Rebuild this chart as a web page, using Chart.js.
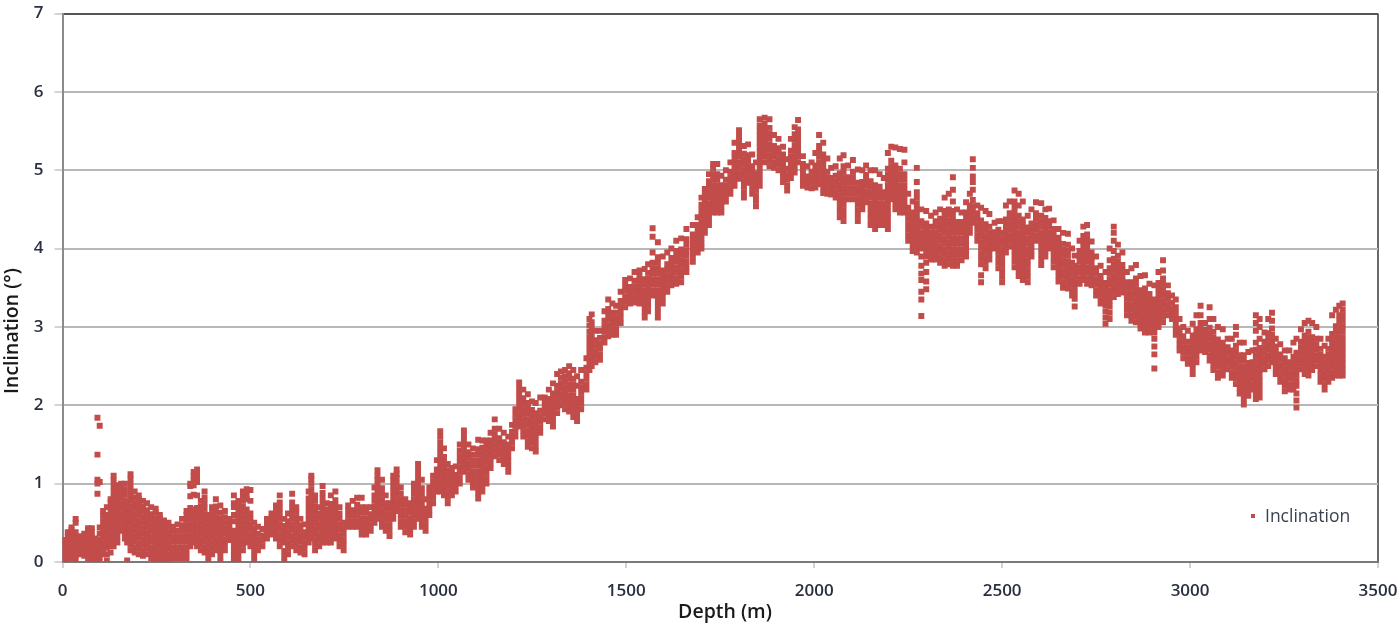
<!DOCTYPE html>
<html><head><meta charset="utf-8">
<style>html,body{margin:0;padding:0;background:#fff}#w{position:relative;width:1400px;height:624px}canvas{display:block;filter:blur(.55px)}</style>
<script src="https://cdn.jsdelivr.net/npm/chart.js@4"></script></head><body><div id="w"><canvas id="c" width="1400" height="624"></canvas></div>
<script>
const seriesName='Inclination';
const xTitle='Depth (m)';
const yTitle='Inclination (°)';
const xTicks=[0,500,1000,1500,2000,2500,3000,3500];
const yTicks=[0,1,2,3,4,5,6,7];
const depthsA=[5,14,24,35,46,58,68,78,88,93,99,108,118,128,136,146,156,166,172,181,192,203,214,225,236,248,259,270,282,294,306,318,330,340,349,358,368,378,388,398,408,420,432,444,456,468,480,490,500];
const inclA=[
[.03,.1,.16,.22,.28],[.02,.08,.14,.2,.26,.32,.38],[.05,.11,.17,.23,.29,.35,.41,.44],[.02,.08,.14,.2,.26,.32,.38,.5,.55],[.1,.16,.22,.28,.33],[.08,.14,.2,.26,.32,.36],[.05,.11,.17,.23,.29,.35,.41,.43],[.03,.09,.15,.21,.27,.33,.39,.43],[0,.06,.12,.18,.24,.3],
[.02,.08,.16,.25,.87,1,1.05,1.37,1.84],[.05,.12,.2,.28,.36,.44,1.02,1.74],[.1,.17,.24,.31,.38,.45,.52,.59,.65],[.02,.1,.18,.25,.32,.39,.46,.53,.6,.7],[.12,.2,.27,.34,.41,.48,.55,.62,.69,.76,.8],
[.2,.27,.34,.41,.48,.55,.62,.69,.76,.83,.9,.97,1.04,1.1],[.25,.32,.39,.46,.53,.6,.67,.74,.81,.88,.95,.98],[.4,.47,.54,.61,.68,.75,.82,.89,.96,1],[.3,.37,.44,.51,.58,.65,.72,.79,.86,.93,1],[.02,.25,.32,.39,.46,.53,.6,.67,.75],
[.15,.22,.29,.36,.43,.5,.57,.64,.71,.78,.85,.92,.99,1.06,1.12],[.12,.19,.26,.33,.4,.47,.54,.61,.68,.75,.82,.9],[.1,.17,.24,.31,.38,.45,.52,.59,.66,.73,.8,.85],[.08,.15,.22,.29,.36,.43,.5,.57,.64,.71,.78],[.1,.17,.24,.31,.38,.45,.52,.59,.66,.75],[.05,.12,.19,.26,.33,.4,.47,.54,.61,.7],[0,.07,.14,.21,.28,.35,.42,.49,.56,.63,.68],[0,.07,.14,.21,.28,.35,.42,.49,.56,.6],[0,.07,.14,.21,.28,.35,.42,.48,.53],
[.03,.1,.17,.24,.31,.38,.45,.5],[.05,.12,.19,.26,.33,.4,.45],[.05,.12,.19,.26,.33,.4,.48],[.05,.12,.19,.26,.33,.4,.47,.55],[.05,.12,.19,.26,.33,.4,.47,.54,.6,.65],[.2,.27,.34,.41,.48,.55,.62,.69,.84,.97,1],[.25,.32,.39,.46,.53,.6,.67,.86,.98,1.05,1.1,1.15],[.2,.27,.34,.41,.48,.55,.62,.69,.85,1.02,1.08,1.14,1.18],[.15,.22,.29,.36,.43,.5,.57,.64,.71,.78],[.12,.19,.26,.33,.4,.47,.54,.61,.68,.75,.82,.9],[0,.07,.14,.21,.28,.35,.42,.49,.56,.6],[.1,.17,.24,.31,.38,.45,.52,.59,.66,.7],[.15,.22,.29,.36,.43,.5,.57,.64,.71,.8],[0,.07,.14,.21,.28,.35,.42,.49,.56,.63,.72],[.15,.22,.29,.36,.43,.5,.57,.65],[.28,.35,.42,.49,.55],[0,.07,.14,.21,.28,.35,.4,.52,.6,.7,.75,.85],[.02,.09,.16,.23,.3,.37,.44,.51,.58,.65,.72,.78],[.15,.22,.29,.36,.43,.5,.57,.64,.71,.78,.85,.9],[.25,.32,.39,.46,.53,.6,.67,.8,.86,.93],[.2,.27,.34,.41,.48,.55,.62,.78,.92]];
const depthsB=[510,520,532,544,556,568,578,590,600,611,622,633,644,655,662,672,683,692,703,714,726,737,748,760,772,784,796,808,820,830,838,850,860,870,880,889,900,912,925,935,946,956,966,976,986,996];
const inclB=[
[0,.07,.14,.21,.28,.35,.42,.5],[.15,.22,.29,.36,.45],[.2,.27,.34,.42],[.3,.37,.44,.5,.55],[.35,.42,.49,.56,.62],[.3,.37,.44,.51,.58,.65,.72],[.2,.27,.34,.41,.48,.55,.62,.69,.76,.85],[0,.07,.14,.25,.32,.39,.46,.55],[.1,.17,.24,.31,.38,.45,.52,.62],[.2,.27,.34,.41,.48,.55,.62,.69,.76,.87],[.15,.22,.29,.36,.43,.5,.57,.64,.7],[.12,.19,.26,.33,.4,.47,.55],[.1,.17,.24,.31,.38,.48],[.25,.32,.39,.46,.53,.6,.67,.74,.81,.9],[.3,.37,.44,.51,.58,.65,.72,.79,.86,.93,1,1.06,1.1],[.15,.22,.29,.36,.43,.5,.57,.64,.71,.78,.85],[.2,.27,.34,.41,.48,.55,.62,.7],[.25,.32,.39,.46,.53,.6,.67,.74,.81,.88,.97],[.25,.32,.39,.46,.53,.6,.67,.75],[.25,.32,.39,.46,.53,.6,.67,.74,.85],[.3,.37,.44,.51,.58,.65,.72,.79,.9],[.2,.27,.34,.41,.48,.55,.62,.7],[.15,.22,.29,.36,.43,.5],[.45,.52,.59,.66,.72],[.45,.52,.59,.66,.78],[.45,.52,.59,.66,.73,.82],[.35,.42,.49,.56,.63,.7,.82],[.35,.42,.49,.56,.63,.7],[.4,.47,.54,.61,.7],[.5,.57,.64,.71,.78,.85,.95],[.55,.62,.69,.76,.83,.9,.97,1.04,1.1,1.17],[.45,.52,.59,.66,.73,.8,.87,.94,1.05],[.4,.47,.54,.61,.68,.75,.85],[.33,.4,.47,.54,.61,.68,.75],[.55,.62,.69,.76,.83,.9,.97,1.04,1.1],[.65,.72,.79,.86,.93,1,1.07,1.12,1.18],[.45,.52,.59,.66,.73,.8,.87,.95],[.38,.45,.52,.59,.66,.73,.8],[.35,.42,.49,.56,.63,.7,.75],[.45,.52,.59,.66,.73,.8,.87,.94,1],[.55,.62,.69,.76,.83,.9,.97,1.04,1.11,1.18,1.25],[.45,.52,.59,.66,.73,.8,.87,.94,1.05],[.4,.47,.54,.61,.68,.8],[.6,.67,.74,.81,.88,.95],[.75,.82,.89,.96,1.03,1.1],[.9,.97,1.04,1.11,1.18,1.3]];
const depthsC=[1005,1015,1025,1036,1046,1057,1068,1080,1092,1106,1117,1128,1139,1150,1162,1174,1186,1196,1205,1215,1226,1238,1249,1259,1271,1283,1294,1305,1316,1326,1337,1348,1359,1369,1380,1394,1402,1408,1418,1430,1442,1452,1463,1473,1485,1497];
const inclC=[
[.9,.97,1.04,1.11,1.18,1.25,1.32,1.39,1.46,1.53,1.6,1.67],[.85,.92,.99,1.06,1.13,1.2,1.27,1.34,1.45],[.75,.82,.89,.96,1.03,1.1,1.17,1.25],[.85,.92,.99,1.06,1.13,1.2],[.9,.97,1.04,1.11,1.22],[1,1.07,1.14,1.21,1.28,1.35,1.42,1.5],[1.15,1.22,1.29,1.36,1.43,1.5,1.57,1.63,1.68],[1.05,1.12,1.19,1.26,1.33,1.4,1.5],[.95,1.02,1.09,1.16,1.23,1.3,1.37,1.45],[.81,.88,.95,1.02,1.09,1.16,1.23,1.3,1.37,1.44,1.56],[.9,.97,1.04,1.11,1.18,1.25,1.32,1.39,1.46,1.55],[1,1.07,1.14,1.21,1.28,1.35,1.42,1.49,1.55],[1.2,1.27,1.34,1.41,1.48,1.55,1.65],[1.35,1.42,1.49,1.56,1.63,1.7,1.82],[1.3,1.37,1.44,1.51,1.58,1.7],[1.25,1.32,1.39,1.46,1.53,1.65],[1.15,1.22,1.29,1.36,1.43,1.5,1.6],[1.45,1.52,1.59,1.66,1.75],[1.6,1.67,1.74,1.81,1.88,1.95],[1.73,1.8,1.87,1.94,2.01,2.08,2.15,2.22,2.29],[1.6,1.67,1.74,1.81,1.88,1.95,2.02,2.09,2.2],[1.47,1.54,1.61,1.68,1.75,1.82,1.89,1.96,2.03,2.14],[1.45,1.52,1.59,1.66,1.73,1.8,1.87,1.94,2.05],[1.41,1.48,1.55,1.62,1.69,1.76,1.83,1.9,2.03],[1.65,1.72,1.79,1.86,1.93,2.1],[1.82,1.89,1.96,2.03,2.1],[1.8,1.87,1.94,2.01,2.08,2.2],[1.73,1.8,1.87,1.94,2.01,2.08,2.15,2.28],[1.9,1.97,2.04,2.11,2.18,2.25,2.4],[2,2.07,2.14,2.21,2.28,2.35,2.43],[1.95,2.02,2.09,2.16,2.23,2.3,2.37,2.45],[1.92,1.99,2.06,2.13,2.2,2.27,2.34,2.41,2.5],[1.85,1.92,1.99,2.06,2.13,2.2,2.27,2.34,2.45],[1.8,1.87,1.94,2.01,2.08,2.25,2.37],[1.95,2.02,2.09,2.16,2.23,2.3,2.45],[2.2,2.27,2.34,2.41,2.48,2.6],[2.45,2.52,2.59,2.66,2.73,2.8,2.87,2.94,3.02,3.1],[2.5,2.57,2.64,2.71,2.78,2.85,2.92,2.99,3.06,3.16],[2.55,2.62,2.69,2.76,2.83,2.95],[2.58,2.65,2.72,2.79,2.86,2.95],[2.8,2.87,2.94,3.01,3.08,3.2],[2.88,2.95,3.02,3.09,3.16,3.23,3.35],[2.9,2.97,3.04,3.11,3.18,3.3],[2.9,2.97,3.04,3.11,3.18,3.27],[3.05,3.12,3.19,3.26,3.33,3.45],[3.25,3.32,3.39,3.46,3.53,3.6]];
const depthsD=[1510,1522,1535,1549,1558,1570,1584,1597,1609,1620,1633,1646,1660,1677,1690,1700,1709,1720,1731,1742,1753,1765,1777,1788,1800,1813,1824,1835,1845,1855,1868,1881,1893,1905,1917,1928,1938,1948,1957,1970,1982,1993];
const inclD=[
[3.3,3.37,3.44,3.51,3.62],[3.31,3.38,3.45,3.52,3.59,3.7],[3.3,3.37,3.44,3.51,3.58,3.65,3.72],[3.12,3.19,3.26,3.33,3.4,3.47,3.54,3.61,3.74],[3.2,3.27,3.34,3.41,3.48,3.55,3.62,3.69,3.8],[3.4,3.47,3.54,3.61,3.68,3.75,3.82,3.95,4.15,4.26],[3.12,3.19,3.26,3.33,3.4,3.47,3.54,3.61,3.68,3.75,3.82,3.89,4.08],[3.3,3.37,3.44,3.51,3.58,3.65,3.72,3.9],[3.45,3.52,3.59,3.66,3.73,3.8,3.95],[3.53,3.6,3.67,3.74,3.81,3.88,4],[3.55,3.62,3.69,3.76,3.83,3.9,3.97,4.1],[3.57,3.64,3.71,3.78,3.85,3.92,3.99,4.13],[3.7,3.77,3.84,3.91,3.98,4.05,4.12,4.25],[3.83,3.9,3.97,4.04,4.11,4.18,4.3],[3.95,4.02,4.09,4.16,4.23,4.3,4.4],[4,4.07,4.14,4.21,4.28,4.35,4.42,4.49,4.56,4.65],[4.2,4.27,4.34,4.41,4.48,4.55,4.62,4.69,4.76],[4.3,4.37,4.44,4.51,4.58,4.65,4.72,4.79,4.86,4.95],[4.46,4.53,4.6,4.67,4.74,4.81,4.88,4.95,5.02,5.08],[4.46,4.53,4.6,4.67,4.74,4.81,4.88,4.95,5.08],[4.46,4.53,4.6,4.67,4.74,4.81,4.93],[4.6,4.67,4.74,4.81,4.88,5],[4.7,4.77,4.84,4.91,4.98,5.1],[4.8,4.87,4.94,5.01,5.08,5.15,5.22,5.35],[4.89,4.96,5.03,5.1,5.17,5.24,5.31,5.38,5.45,5.51],[4.65,4.72,4.79,4.86,4.93,5,5.07,5.14,5.21,5.31],[4.84,4.91,4.98,5.05,5.12,5.19,5.33],[4.7,4.77,4.84,4.91,4.98,5.05,5.2],[4.54,4.61,4.68,4.75,4.82,4.89,4.96,5.1],[4.8,4.87,4.94,5.01,5.08,5.15,5.22,5.29,5.36,5.43,5.5,5.57,5.65],[5.1,5.17,5.24,5.31,5.38,5.45,5.52,5.59,5.67],[5.05,5.12,5.19,5.26,5.33,5.4,5.47,5.54,5.65],[5.03,5.1,5.17,5.24,5.31,5.45],[5,5.07,5.14,5.21,5.28,5.4],[4.85,4.92,4.99,5.06,5.13,5.2,5.3],[4.74,4.81,4.88,4.95,5.02,5.14],[4.9,4.97,5.04,5.11,5.18,5.25,5.4],[4.97,5.04,5.11,5.18,5.25,5.32,5.39,5.46,5.55],[5.1,5.17,5.24,5.31,5.38,5.45,5.52,5.64],[4.8,4.87,4.94,5.01,5.08,5.18],[4.78,4.85,4.92,5.05],[4.77,4.84,4.91,4.98,5.1]];
const depthsE=[2003,2013,2024,2035,2045,2057,2068,2078,2090,2103,2116,2128,2138,2150,2162,2174,2185,2196,2205,2216,2228,2240,2250,2262,2273,2285,2298,2311,2323,2335,2347,2358,2369,2380,2392,2404,2414,2422,2434,2444,2456,2466,2480,2490];
const inclE=[
[4.78,4.85,4.92,4.99,5.06,5.22],[4.82,4.89,4.96,5.03,5.1,5.17,5.24,5.31,5.45],[4.71,4.78,4.85,4.92,4.99,5.06,5.13,5.2,5.35],[4.7,4.77,4.84,4.91,4.98,5.15],[4.69,4.76,4.83,4.9,5.03],[4.65,4.72,4.79,4.86,4.93,5.05],[4.4,4.47,4.54,4.61,4.68,4.75,4.82,4.89,4.96,5.15],[4.35,4.42,4.49,4.56,4.63,4.7,4.77,4.84,4.91,4.98,5.05,5.19],[4.63,4.7,4.77,4.84,4.91,5.06],[4.63,4.7,4.77,4.84,4.91,4.98,5.13],[4.35,4.42,4.49,4.56,4.63,4.7,4.77,4.84,5.01],[4.5,4.57,4.64,4.71,4.78,4.85,5],[4.59,4.66,4.73,4.8,4.87,4.94,5.06],[4.3,4.37,4.44,4.51,4.58,4.65,4.72,4.79,4.86,5],[4.25,4.32,4.39,4.46,4.53,4.6,4.67,4.74,4.81,5],[4.3,4.37,4.44,4.51,4.58,4.65,4.72,4.79,4.95],[4.3,4.37,4.44,4.51,4.58,4.65,4.72,4.9],[4.25,4.32,4.39,4.46,4.53,4.6,4.67,4.74,4.81,4.88,4.95,5.02,5.22],[4.63,4.7,4.77,4.84,4.91,4.98,5.05,5.12,5.3],[4.5,4.57,4.64,4.71,4.78,4.85,4.92,4.99,5.06,5.29],[4.46,4.53,4.6,4.67,4.74,4.81,4.88,4.95,5.02,5.27],[4.46,4.53,4.6,4.67,4.74,4.81,4.88,4.95,5.1,5.26],[4.1,4.17,4.24,4.31,4.38,4.45,4.52,4.7],[3.97,4.04,4.11,4.18,4.25,4.32,4.39,4.46,4.6],[3.95,4.02,4.09,4.16,4.23,4.3,4.37,4.44,4.51,4.58,4.65,4.72,4.85,5.03],[3.14,3.35,3.45,3.6,3.68,3.78,3.9,4,4.07,4.14,4.21,4.28,4.35,4.5],[3.48,3.58,3.7,3.82,3.9,3.97,4.04,4.11,4.18,4.25,4.32,4.48],[3.86,3.93,4,4.07,4.14,4.21,4.28,4.42],[3.86,3.93,4,4.07,4.14,4.21,4.28,4.35,4.46],[3.82,3.89,3.96,4.03,4.1,4.17,4.24,4.31,4.38,4.5],[3.78,3.85,3.92,3.99,4.06,4.13,4.2,4.27,4.34,4.41,4.48,4.65],[3.8,3.87,3.94,4.01,4.08,4.15,4.22,4.29,4.36,4.43,4.5,4.7],[3.78,3.85,3.92,3.99,4.06,4.13,4.2,4.27,4.34,4.41,4.48,4.6,4.75,4.91],[3.78,3.85,3.92,3.99,4.06,4.13,4.2,4.27,4.34,4.5],[3.85,3.92,3.99,4.06,4.13,4.2,4.27,4.34,4.46],[3.9,3.97,4.04,4.11,4.18,4.25,4.32,4.39,4.46,4.59],[4.2,4.27,4.34,4.41,4.48,4.55,4.7],[4.33,4.4,4.47,4.54,4.62,4.75,4.85,4.92,5.03,5.14],[4.1,4.17,4.24,4.31,4.38,4.45,4.55],[3.57,3.66,3.8,3.87,3.94,4.01,4.08,4.15,4.22,4.29,4.36,4.52],[3.75,3.82,3.89,3.96,4.03,4.1,4.17,4.24,4.31,4.48],[3.86,3.93,4,4.07,4.14,4.21,4.28,4.44],[4,4.07,4.14,4.21,4.33],[3.75,3.82,3.89,3.96,4.03,4.1,4.17,4.24,4.35]];
const depthsF=[2500,2510,2520,2533,2544,2555,2568,2578,2590,2604,2615,2625,2637,2650,2662,2675,2686,2693,2706,2716,2726,2738,2750,2762,2775,2786,2797,2808,2820,2832,2844,2856,2868,2880,2892,2905,2916,2928,2941,2952,2962,2972,2982,2994];
const inclF=[
[3.57,3.64,3.71,3.78,3.85,3.92,3.99,4.06,4.13,4.2,4.35],[3.95,4.02,4.09,4.16,4.23,4.3,4.37,4.55],[4.03,4.1,4.17,4.24,4.31,4.38,4.45,4.6],[3.76,3.83,3.9,3.97,4.04,4.11,4.18,4.25,4.32,4.39,4.46,4.53,4.6,4.74],[3.65,3.72,3.79,3.86,3.93,4,4.07,4.14,4.21,4.28,4.35,4.42,4.55,4.7],[3.6,3.67,3.74,3.81,3.88,3.95,4.02,4.09,4.16,4.23,4.3,4.37,4.6],[3.57,3.64,3.71,3.78,3.85,3.92,3.99,4.06,4.13,4.2,4.27,4.42],[3.9,3.97,4.04,4.11,4.18,4.25,4.32,4.5],[4.1,4.17,4.24,4.31,4.38,4.45,4.59],[3.79,3.86,3.93,4,4.07,4.14,4.21,4.28,4.35,4.42,4.58],[3.9,3.97,4.04,4.11,4.18,4.25,4.32,4.39,4.5],[4,4.07,4.14,4.21,4.28,4.35,4.51],[3.76,3.83,3.9,3.97,4.04,4.11,4.18,4.25,4.36],[3.58,3.65,3.72,3.79,3.86,3.93,4,4.07,4.14,4.25],[3.5,3.57,3.64,3.71,3.78,3.85,3.92,3.99,4.06,4.2],[3.49,3.56,3.63,3.7,3.77,3.84,3.91,3.98,4.05,4.19],[3.4,3.47,3.54,3.61,3.68,3.75,3.82,4],[3.26,3.36,3.43,3.5,3.57,3.64,3.71,3.78,3.91],[3.55,3.62,3.69,3.76,3.83,3.9,3.97,4.1],[3.6,3.67,3.74,3.81,3.88,3.95,4.02,4.09,4.16,4.28],[3.55,3.62,3.69,3.76,3.83,3.9,3.97,4.04,4.11,4.18,4.3],[3.53,3.6,3.67,3.74,3.81,3.88,3.95,4.09],[3.4,3.47,3.54,3.61,3.68,3.75,3.9],[3.3,3.37,3.44,3.51,3.58,3.65,3.78],[3.04,3.12,3.2,3.28,3.35,3.42,3.49,3.56,3.7],[3.1,3.18,3.26,3.33,3.4,3.47,3.54,3.61,3.68,3.75,3.85,4],[3.38,3.45,3.52,3.59,3.66,3.73,3.8,3.87,3.97,4.1,4.2,4.28],[3.42,3.49,3.56,3.63,3.7,3.77,3.84,3.91,4.05],[3.44,3.51,3.58,3.65,3.72,3.79,3.95],[3.15,3.22,3.29,3.36,3.43,3.5,3.57,3.7],[3.08,3.15,3.22,3.29,3.36,3.43,3.5,3.57,3.75],[3.06,3.13,3.2,3.27,3.34,3.41,3.48,3.55,3.62,3.79],[2.98,3.05,3.12,3.19,3.26,3.33,3.4,3.47,3.65],[2.93,3,3.07,3.14,3.21,3.28,3.35,3.42,3.49,3.66],[2.93,3,3.07,3.14,3.21,3.28,3.35,3.42,3.55],[2.47,2.65,2.75,2.85,2.93,3,3.07,3.14,3.21,3.28,3.35,3.53],[3,3.07,3.14,3.21,3.28,3.35,3.42,3.49,3.56,3.7],[3.06,3.13,3.2,3.27,3.34,3.41,3.48,3.55,3.62,3.72,3.85],[3.15,3.22,3.29,3.36,3.43,3.53],[3.1,3.17,3.24,3.31,3.4],[2.9,2.97,3.04,3.11,3.18,3.25,3.35],[2.7,2.77,2.84,2.91,2.98,3.1],[2.6,2.67,2.74,2.81,2.88,3],[2.53,2.6,2.67,2.74,2.81,2.95]];
const depthsG=[3007,3017,3028,3040,3052,3062,3074,3087,3100,3111,3122,3132,3143,3155,3166,3175,3185,3198,3208,3218,3228,3240,3252,3264,3275,3283,3295,3305,3315,3325,3336,3347,3358,3368,3378,3388,3397,3406];
const inclG=[
[2.4,2.47,2.54,2.61,2.68,2.75,2.82,2.89,3.04],[2.55,2.62,2.69,2.76,2.83,2.9,2.97,3.15],[2.7,2.77,2.84,2.91,2.98,3.05,3.15,3.27],[2.68,2.75,2.82,2.89,2.96,3.05],[2.57,2.64,2.71,2.78,2.85,2.92,2.99,3.1,3.25],[2.45,2.52,2.59,2.66,2.73,2.8,2.87,2.94,3.1],[2.35,2.42,2.49,2.56,2.63,2.7,2.77,2.84,3],[2.38,2.45,2.52,2.59,2.66,2.73,2.8,2.97],[2.46,2.53,2.6,2.67,2.74,2.85],[2.35,2.42,2.49,2.56,2.63,2.7,2.85],[2.27,2.34,2.41,2.48,2.55,2.62,2.69,2.76,2.9,3],[2.15,2.22,2.29,2.36,2.43,2.5,2.57,2.64,2.8],[2.01,2.08,2.15,2.22,2.29,2.36,2.43,2.5,2.57,2.64,2.8],[2.12,2.19,2.26,2.33,2.4,2.47,2.54,2.68],[2.2,2.27,2.34,2.41,2.48,2.55,2.7],[2.08,2.15,2.22,2.29,2.36,2.43,2.5,2.57,2.64,2.71,2.8,2.95,3.05,3.15],[2.1,2.17,2.24,2.31,2.38,2.45,2.52,2.59,2.66,2.73,2.85,3,3.1],[2.46,2.53,2.6,2.67,2.74,2.81,2.93],[2.5,2.57,2.64,2.71,2.78,2.85,2.92,3.1],[2.55,2.62,2.69,2.76,2.83,2.9,2.98,3.08,3.18],[2.4,2.47,2.54,2.61,2.68,2.75,2.85],[2.3,2.37,2.44,2.51,2.58,2.65,2.78],[2.18,2.25,2.32,2.39,2.46,2.53,2.6,2.7],[2.2,2.27,2.34,2.41,2.48,2.55,2.7],[2.2,2.27,2.34,2.41,2.48,2.55,2.62,2.8],[1.97,2.06,2.15,2.25,2.32,2.39,2.46,2.53,2.6,2.67,2.85],[2.46,2.53,2.6,2.67,2.74,2.81,2.97],[2.4,2.47,2.54,2.61,2.68,2.75,2.82,2.89,3.05],[2.38,2.45,2.52,2.59,2.66,2.73,2.8,2.87,2.94,3.08],[2.45,2.52,2.59,2.66,2.73,2.8,2.87,3.05],[2.5,2.57,2.64,2.71,2.78,2.85,3],[2.3,2.37,2.44,2.51,2.58,2.65,2.72,2.85],[2.2,2.27,2.34,2.41,2.48,2.55,2.62,2.76],[2.3,2.37,2.44,2.51,2.58,2.65,2.72,2.85],[2.35,2.42,2.49,2.56,2.63,2.7,2.77,2.84,2.91,3.15],[2.38,2.45,2.52,2.59,2.66,2.73,2.8,2.87,2.94,3.01,3.22],[2.38,2.45,2.52,2.59,2.66,2.73,2.8,2.87,2.94,3.01,3.08,3.15,3.27],[2.38,2.45,2.52,2.59,2.66,2.73,2.8,2.87,2.94,3.01,3.08,3.15,3.22,3.3]];

const points=[];
[[depthsA,inclA],[depthsB,inclB],[depthsC,inclC],[depthsD,inclD],[depthsE,inclE],[depthsF,inclF],[depthsG,inclG]].forEach(([ds,vs])=>{
  ds.forEach((d,i)=>vs[i].forEach(v=>points.push({x:d,y:v})));
});
const red='#c24c4a';
const font='"Open Sans", sans-serif';
const annotate={id:'annotate',afterDraw(ch){
  const c=ch.ctx;c.save();c.textBaseline='middle';
  c.fillStyle='#1a1a1a';c.font='600 19.5px '+font;c.textAlign='center';
  c.fillText(xTitle,725,612);
  c.save();c.translate(12,331);c.rotate(-Math.PI/2);c.fillText(yTitle,0,0);c.restore();
  c.fillStyle=red;c.fillRect(1251,514,4,4);
  c.fillStyle='#3a4250';c.font='17.5px '+font;c.textAlign='left';
  c.fillText(seriesName,1265,517);
  c.restore();
}};
new Chart(document.getElementById('c'),{
  type:'scatter',
  data:{datasets:[{label:seriesName,data:points,pointStyle:'rect',pointRadius:4.2,pointHoverRadius:4.2,backgroundColor:red,borderColor:red,borderWidth:0}]},
  options:{responsive:false,animation:false,
    layout:{padding:{left:0,right:22,top:13.5,bottom:0}},
    plugins:{legend:{display:false},tooltip:{enabled:false}},
    scales:{
      x:{type:'linear',min:0,max:3500,afterBuildTicks(a){a.ticks=xTicks.map(v=>({value:v}));},
        afterFit(s){s.height=62;s.paddingLeft=0;s.paddingRight=0;},
        border:{color:'#7a7a7a',width:2},
        grid:{color:c=>c.tick&&c.tick.value===3500?'#6a6a6a':'rgba(0,0,0,0)',lineWidth:2,tickColor:'#a8a8a8',tickLength:6,tickWidth:1},
        ticks:{maxRotation:0,autoSkip:false,padding:13,color:'#2a3040',callback:v=>String(v),font:{family:font,size:17,weight:'600'}}},
      y:{type:'linear',min:0,max:7,afterBuildTicks(a){a.ticks=yTicks.map(v=>({value:v}));},
        afterFit(s){s.width=62.5;s.paddingTop=0;s.paddingBottom=0;},
        border:{color:'#8a8a8a',width:2},
        grid:{color:c=>c.tick&&c.tick.value===7?'#555':'#b8b8b8',lineWidth:2,tickColor:'#a8a8a8',tickLength:8,tickWidth:1},
        ticks:{autoSkip:false,padding:11,color:'#2a3040',callback:v=>String(v),font:{family:font,size:17,weight:'600'}}}
    }
  },plugins:[annotate]
});
</script></body></html>
